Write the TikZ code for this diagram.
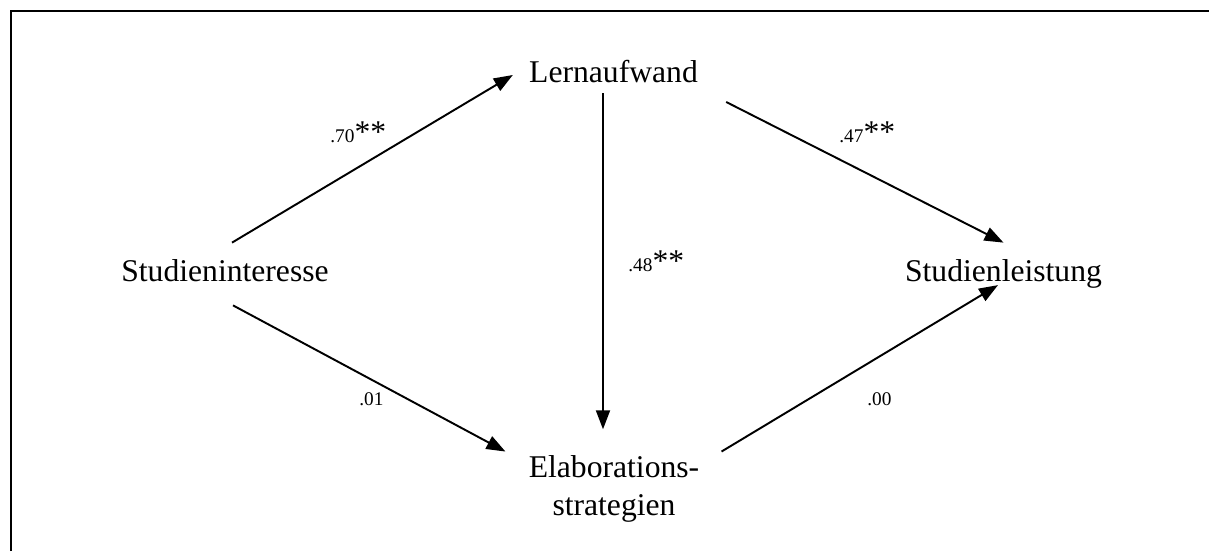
\documentclass[tikz,border=0pt]{standalone}
\usepackage{fontspec}
\setmainfont{Liberation Serif}
\usetikzlibrary{arrows.meta}

\tikzset{
  konstrukt/.style={font=\fontsize{18}{21.6}\selectfont, inner sep=0.32cm, text height=12.6pt, text depth=4.5pt},
  mehrzeilig/.style={font=\fontsize{18}{21.6}\selectfont, inner sep=0.32cm, align=center},
  koeff/.style={anchor=base west, inner sep=0pt, font=\fontsize{18}{21.6}\selectfont},
  pfeil/.style={-{Triangle[length=0.38cm,width=0.28cm]}, line width=1.1pt},
}
\newcommand{\koef}[1]{{\fontsize{11}{13}\selectfont #1}}

\begin{document}
\begin{tikzpicture}

\useasboundingbox (0,0) rectangle (24.18,11.02);
% Rahmen (rechts und unten abgeschnitten)
\draw [line width=1.2pt] (0.22,0) -- (0.22,10.8) -- (24.18,10.8);

\node [konstrukt] (si) at (4.5,5.54) {Studieninteresse};
\node [konstrukt] (la) at (12.27,9.52) {Lernaufwand};
\node [konstrukt] (sl) at (20.07,5.54) {Studienleistung};
\node [mehrzeilig] (el) at (12.28,1.25) {Elaborations-\\strategien};

\draw [pfeil] ([xshift=0.14cm]si.north) -- (la.west);
\draw [pfeil] ([xshift=0.16cm]si.south) -- ([xshift=-0.14cm]el.160);
\draw [pfeil] ([xshift=-0.21cm,yshift=0.26cm]la.south) -- ([xshift=-0.22cm,yshift=0.19cm]el.north);
\draw [pfeil] ([xshift=0.24cm]la.-15) -- (sl.north);
\draw [pfeil] ([xshift=0.12cm]el.20) -- ([xshift=-0.11cm,yshift=-0.08cm]sl.base);

\node [koeff] (k70) at (6.6,8.16) {\koef{.70}**};
\node [koeff] (k48) at (12.56,5.58) {\koef{.48}**};
\node [koeff] (k47) at (16.78,8.16) {\koef{.47}**};
\node [koeff] (k01) at (7.18,2.9) {\koef{.01}};
\node [koeff] (k00) at (17.34,2.9) {\koef{.00}};

\end{tikzpicture}
\end{document}
